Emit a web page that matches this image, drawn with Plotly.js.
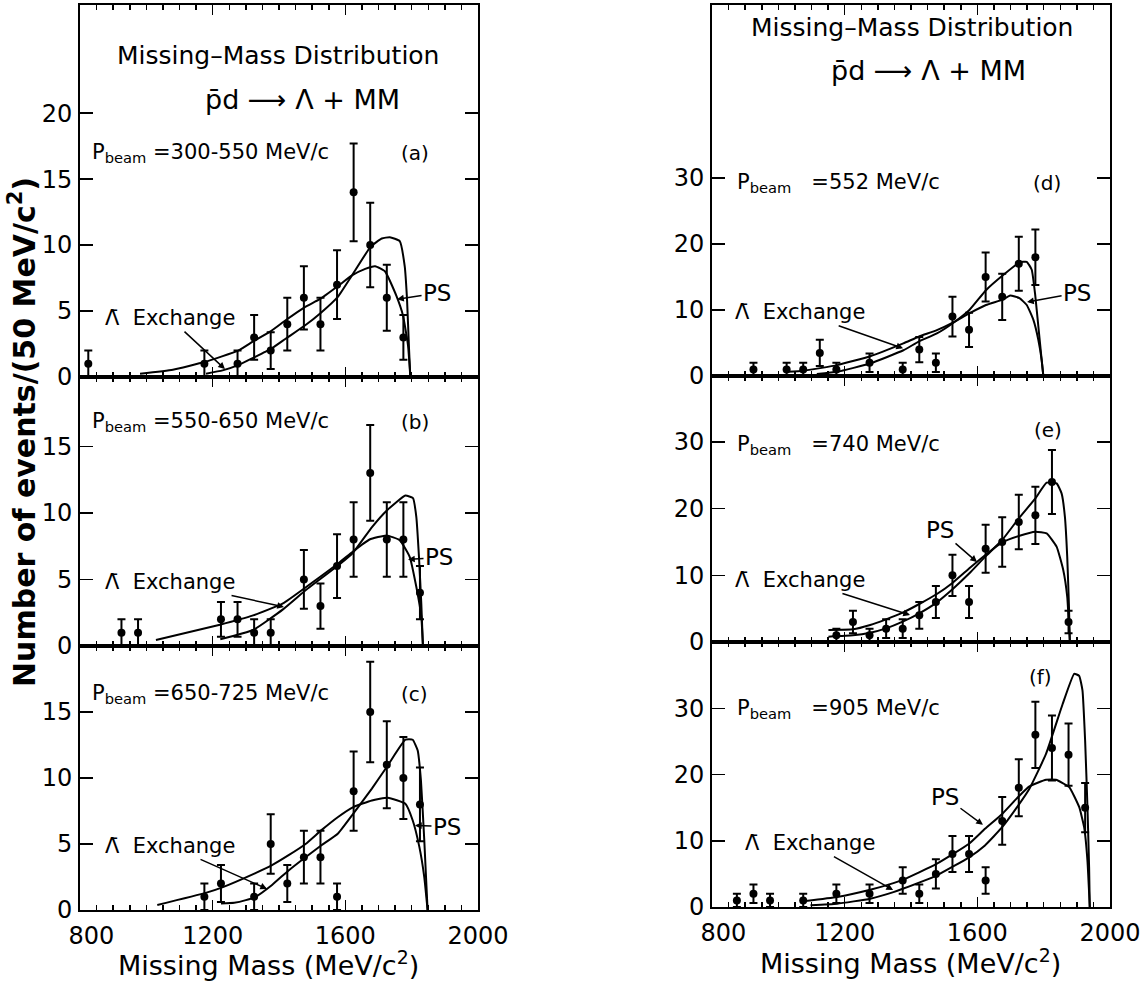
<!DOCTYPE html>
<html>
<head>
<meta charset="utf-8">
<script src="https://cdn.plot.ly/plotly-3.0.1.min.js"></script>
<style>html,body{margin:0;padding:0;background:#fff;}#chart{width:1148px;height:984px;}</style>
</head>
<body>
<div id="chart"></div>
<script>
// ---------- data ----------
// Panel (a) P_beam = 300-550 MeV/c
const a_mass   = [825, 1175, 1275, 1325, 1375, 1425, 1475, 1525, 1575, 1625, 1675, 1725, 1775];
const a_counts = [1, 1, 1, 3, 2, 4, 6, 4, 7, 14, 10, 6, 3];
const a_err    = [1, 1, 1, 1.7, 1.4, 2, 2.4, 2, 2.6, 3.7, 3.2, 2.5, 1.7];
const a_ps_mass = [981, 1080, 1177, 1277, 1322, 1377, 1420, 1478, 1523, 1578, 1620, 1660, 1690, 1720, 1754, 1774, 1789, 1796];
const a_ps_y    = [0.25, 0.55, 1.15, 2.0, 2.7, 3.5, 4.3, 5.3, 5.9, 6.9, 7.7, 8.2, 8.4, 8.0, 6.15, 4.65, 2.4, 0];
const a_lx_mass = [1180, 1230, 1277, 1322, 1377, 1420, 1478, 1523, 1578, 1620, 1677, 1710, 1734, 1764, 1779, 1786, 1792, 1796];
const a_lx_y    = [0.25, 0.5, 0.9, 1.45, 2.15, 2.9, 3.9, 4.8, 6.1, 7.7, 9.9, 10.5, 10.6, 10.3, 8.4, 5.9, 2.15, 0];

// Panel (b) P_beam = 550-650 MeV/c
const b_mass   = [925, 975, 1225, 1275, 1325, 1375, 1475, 1525, 1575, 1625, 1675, 1725, 1775, 1825];
const b_counts = [1, 1, 2, 2, 1, 1, 5, 3, 6, 8, 13, 8, 8, 4];
const b_err    = [1, 1, 1.3, 1.3, 1, 1, 2.2, 1.7, 2.4, 2.8, 3.6, 2.8, 2.8, 2];
const b_ps_mass = [1029, 1222, 1322, 1412, 1483, 1581, 1623, 1673, 1724, 1764, 1794, 1814, 1829, 1834];
const b_ps_y    = [0.45, 1.6, 2.3, 3.2, 4.45, 6.25, 7.1, 8.0, 8.3, 7.95, 6.7, 4.45, 2.2, 0];
const b_lx_mass = [1223, 1322, 1412, 1481, 1581, 1623, 1681, 1726, 1781, 1804, 1814, 1822, 1829, 1834];
const b_lx_y    = [0.5, 1.2, 2.75, 4.2, 6.1, 7.0, 8.95, 10.2, 11.3, 11.1, 9.7, 6.7, 3.2, 0];

// Panel (c) P_beam = 650-725 MeV/c
const c_mass   = [1175, 1225, 1325, 1375, 1425, 1475, 1525, 1575, 1625, 1675, 1725, 1775, 1825];
const c_counts = [1, 2, 1, 5, 2, 4, 4, 1, 9, 15, 11, 10, 8];
const c_err    = [1, 1.4, 1, 2.25, 1.4, 2, 2, 1, 3, 3.8, 3.3, 3.1, 2.8];
const c_ps_mass = [1033, 1179, 1227, 1329, 1379, 1429, 1480, 1528, 1578, 1624, 1680, 1728, 1781, 1803, 1823, 1838, 1848];
const c_ps_y    = [0.38, 1.3, 1.7, 2.8, 3.4, 4.15, 5.0, 6.05, 7.05, 7.8, 8.3, 8.5, 8.05, 6.8, 4.8, 2.5, 0];
const c_lx_mass = [1225, 1265, 1300, 1329, 1379, 1429, 1480, 1528, 1578, 1624, 1680, 1728, 1781, 1803, 1818, 1828, 1838, 1848];
const c_lx_y    = [0.5, 0.55, 0.75, 1.0, 1.9, 3.0, 4.0, 4.9, 5.8, 7.3, 9.2, 10.95, 12.9, 12.9, 12.1, 9.8, 5.3, 0];

// Panel (d) P_beam = 552 MeV/c
const d_mass   = [925, 1025, 1075, 1125, 1175, 1275, 1375, 1425, 1475, 1525, 1575, 1625, 1675, 1725, 1775];
const d_counts = [1, 1, 1, 3.5, 1, 2, 1, 4, 2, 9, 7, 15, 12, 17, 18];
const d_err    = [1, 1, 1, 2, 1, 1.4, 1, 1.9, 1.4, 3, 2.6, 3.7, 3.5, 4.1, 4.2];
const d_ps_mass = [1028, 1076, 1178, 1277, 1377, 1423, 1478, 1526, 1576, 1626, 1678, 1699, 1727, 1749, 1769, 1784, 1794, 1799];
const d_ps_y    = [0.65, 0.8, 1.65, 3.0, 4.95, 5.95, 6.95, 8.1, 9.5, 10.75, 11.6, 12.2, 11.8, 10.75, 8.5, 5.45, 2.4, 0];
const d_lx_mass = [1116, 1178, 1277, 1377, 1423, 1478, 1526, 1576, 1626, 1678, 1727, 1749, 1764, 1774, 1784, 1794, 1799];
const d_lx_y    = [0.3, 0.65, 1.9, 3.9, 5.2, 6.45, 8.0, 10.0, 13.0, 15.3, 17.2, 17.3, 16.1, 12.5, 7.5, 2.4, 0];

// Panel (e) P_beam = 740 MeV/c
const e_mass   = [1175, 1225, 1275, 1325, 1375, 1425, 1475, 1525, 1575, 1625, 1675, 1725, 1775, 1825, 1875];
const e_counts = [1, 3, 1, 2, 2, 4, 6, 10, 6, 14, 15, 18, 19, 24, 3];
const e_err    = [1, 1.7, 1, 1.4, 1.4, 2, 2.4, 3.1, 2.4, 3.6, 3.7, 4.1, 4.3, 4.8, 1.7];
const e_ps_mass = [1151, 1225, 1277, 1325, 1375, 1425, 1478, 1526, 1576, 1624, 1675, 1725, 1775, 1809, 1839, 1859, 1871, 1879];
const e_ps_y    = [1.8, 1.9, 2.55, 3.4, 4.4, 5.7, 7.2, 8.9, 11.05, 13.05, 14.95, 15.9, 16.55, 16.3, 14.3, 10.8, 6.8, 0];
const e_lx_mass = [1151, 1225, 1277, 1325, 1375, 1425, 1478, 1526, 1576, 1624, 1675, 1725, 1775, 1809, 1839, 1854, 1864, 1871, 1876, 1879];
const e_lx_y    = [0.8, 1.0, 1.4, 2.05, 3.05, 4.3, 5.95, 7.95, 10.3, 12.8, 15.3, 18.55, 21.55, 23.9, 23.8, 22.3, 18.8, 12.8, 5.8, 0];

// Panel (f) P_beam = 905 MeV/c
const f_mass   = [875, 925, 975, 1075, 1175, 1275, 1375, 1425, 1475, 1525, 1575, 1625, 1675, 1725, 1775, 1825, 1875, 1925];
const f_counts = [1, 2, 1, 1, 2, 2, 4, 2, 5, 8, 8, 4, 13, 18, 26, 24, 23, 15];
const f_err    = [1, 1.4, 1, 1, 1.4, 1.4, 2, 1.4, 2.2, 2.7, 2.7, 2, 3.6, 4.3, 5, 4.9, 4.7, 3.7];
const f_ps_mass = [1082, 1177, 1277, 1347, 1375, 1477, 1575, 1623, 1675, 1723, 1757, 1807, 1837, 1877, 1907, 1922, 1932, 1939];
const f_ps_y    = [0.9, 1.5, 2.6, 3.6, 4.1, 6.5, 9.55, 11.8, 14.05, 16.6, 18.2, 19.2, 19.2, 18.1, 15.1, 12.05, 7.0, 0];
const f_lx_mass = [1097, 1177, 1277, 1347, 1375, 1477, 1575, 1623, 1675, 1723, 1757, 1807, 1857, 1892, 1907, 1917, 1925, 1932, 1937, 1939];
const f_lx_y    = [0.25, 0.5, 1.25, 2.25, 2.75, 4.75, 7.5, 9.3, 12.05, 15.3, 17.85, 23.1, 30.6, 35.2, 34.9, 32.7, 25.1, 15.1, 6.0, 0];

// Text
const panel_beam   = ['300-550 MeV/c', '550-650 MeV/c', '650-725 MeV/c', '552 MeV/c', '740 MeV/c', '905 MeV/c'];
const panel_tags   = ['(a)', '(b)', '(c)', '(d)', '(e)', '(f)'];
const x_tick_vals  = [800, 1200, 1600, 2000];
const x_tick_text  = ['\u00a0\u00a0\u00a0800', '1200', '1600', '2000'];
const left_y_ticks = [[0, 5, 10, 15, 20], [0, 5, 10, 15], [0, 5, 10, 15]];
const right_y_ticks = [0, 10, 20, 30];

// ---------- build ----------
const FONT = 'DejaVu Sans, Arial, sans-serif';
const panels = [
  {m: a_mass, c: a_counts, e: a_err, pm: a_ps_mass, py: a_ps_y, lm: a_lx_mass, ly: a_lx_y},
  {m: b_mass, c: b_counts, e: b_err, pm: b_ps_mass, py: b_ps_y, lm: b_lx_mass, ly: b_lx_y},
  {m: c_mass, c: c_counts, e: c_err, pm: c_ps_mass, py: c_ps_y, lm: c_lx_mass, ly: c_lx_y},
  {m: d_mass, c: d_counts, e: d_err, pm: d_ps_mass, py: d_ps_y, lm: d_lx_mass, ly: d_lx_y},
  {m: e_mass, c: e_counts, e: e_err, pm: e_ps_mass, py: e_ps_y, lm: e_lx_mass, ly: e_lx_y},
  {m: f_mass, c: f_counts, e: f_err, pm: f_ps_mass, py: f_ps_y, lm: f_lx_mass, ly: f_lx_y}
];

const H = 984, W = 1148;
const xDomL = [80 / W, 478 / W], xDomR = [712 / W, 1110 / W];
const yPix = [[5, 377], [377, 646], [646, 910], [5, 376], [376, 642], [642, 907]];
const yRanges = [[0, 28.2], [0, 20.2], [0, 20], [0, 56.2], [0, 39.9], [0, 40]];

const traces = [];
panels.forEach((p, i) => {
  const xa = i === 0 ? 'x' : 'x' + (i + 1);
  const ya = i === 0 ? 'y' : 'y' + (i + 1);
  traces.push({x: p.pm, y: p.py, xaxis: xa, yaxis: ya, mode: 'lines', type: 'scatter',
    line: {color: '#000', width: 2, shape: 'spline', smoothing: 0.4}, hoverinfo: 'skip', name: 'PS'});
  traces.push({x: p.lm, y: p.ly, xaxis: xa, yaxis: ya, mode: 'lines', type: 'scatter',
    line: {color: '#000', width: 2, shape: 'spline', smoothing: 0.4}, hoverinfo: 'skip', name: 'Λ̄ Exchange'});
  traces.push({x: p.m, y: p.c, xaxis: xa, yaxis: ya, mode: 'markers', type: 'scatter',
    marker: {color: '#000', size: 8},
    error_y: {type: 'data', array: p.e, visible: true, color: '#000', thickness: 2, width: 4},
    name: 'data'});
});

const layout = {
  width: W, height: H,
  margin: {l: 0, r: 0, t: 0, b: 0},
  paper_bgcolor: '#fff', plot_bgcolor: '#fff',
  showlegend: false,
  font: {family: FONT, color: '#000', size: 20},
  annotations: []
};

for (let i = 0; i < 6; i++) {
  const sfx = i === 0 ? '' : String(i + 1);
  const left = i < 3;
  const bottom = (i === 2 || i === 5);
  layout['xaxis' + sfx] = {
    domain: left ? xDomL : xDomR,
    anchor: 'y' + sfx,
    range: [800, 2000],
    tickvals: x_tick_vals,
    ticktext: x_tick_text,
    showticklabels: bottom,
    ticks: 'inside', ticklen: 10, tickwidth: 1.5, tickcolor: '#000',
    minor: {dtick: 50, tick0: 800, ticks: 'inside', ticklen: 5, tickwidth: 1.5, tickcolor: '#000', showgrid: false},
    showline: true, linecolor: '#000', linewidth: 2, mirror: 'ticks',
    showgrid: false, zeroline: false,
    ticklabelstandoff: 3,
    tickfont: {family: FONT, size: 24, color: '#000'}
  };
  const yp = yPix[i];
  layout['yaxis' + sfx] = {
    domain: [1 - yp[1] / H, 1 - yp[0] / H],
    anchor: 'x' + sfx,
    range: yRanges[i],
    tickvals: left ? left_y_ticks[i] : right_y_ticks,
    ticks: 'inside', ticklen: 13, tickwidth: 1.5, tickcolor: '#000',
    showline: true, linecolor: '#000', linewidth: 2, mirror: 'ticks',
    showgrid: false, zeroline: false,
    ticklabelstandoff: 1,
    tickfont: {family: FONT, size: 24, color: '#000'}
  };
}

const A = layout.annotations;
function addText(i, x, y, text, size, xanchor) {
  const sfx = i === 0 ? '' : String(i + 1);
  A.push({xref: 'x' + sfx, yref: 'y' + sfx, x: x, y: y, text: text, showarrow: false,
    xanchor: xanchor || 'center', yanchor: 'middle', font: {family: FONT, size: size, color: '#000'}});
}
function addArrow(i, x, y, ax, ay, text, size) {
  const sfx = i === 0 ? '' : String(i + 1);
  A.push({xref: 'x' + sfx, yref: 'y' + sfx, x: x, y: y, ax: ax, ay: ay, text: text, showarrow: true,
    arrowhead: 2, arrowsize: 0.9, arrowwidth: 1.5, arrowcolor: '#000', standoff: 0,
    font: {family: FONT, size: size, color: '#000'}});
}

// beam labels and tags
const beamPos = [[830, 17], [830, 16.8], [830, 16.4], [869, 29.2], [869, 29.5], [869, 29.9]];
const tagPos = [[1810, 17], [1810, 16.8], [1810, 16.4], [1810, 29.2], [1813, 31.8], [1789, 34.7]];
for (let i = 0; i < 6; i++) {
  const gap = i < 3 ? '' : '&nbsp;&nbsp;';
  addText(i, beamPos[i][0], beamPos[i][1], 'P<sub>beam</sub>' + gap + ' =' + panel_beam[i], 21, 'left');
  addText(i, tagPos[i][0], tagPos[i][1], panel_tags[i], 20, 'center');
}
// curve labels with leaders
const lxTip = [[1237, 0.6], [1415, 2.93], [1364, 1.6], [1376, 4.2], [1397, 4.05], [1346, 2.56]];
const lxOff = [[-55, -51], [-114, -25], [-97, -43], [-103, -36], [-110, -35], [-83, -47]];
const psTip = [[1756, 5.9], [1789, 6.5], [1810, 6.4], [1750, 11.2], [1599, 12], [1617, 12.4]];
const psOff = [[40, -6], [31, -2], [32, 1], [50, -9], [-37, -32], [-38, -28]];
for (let i = 0; i < 6; i++) {
  addArrow(i, lxTip[i][0], lxTip[i][1], lxOff[i][0], lxOff[i][1], 'Λ̄&nbsp; Exchange', 21);
  addArrow(i, psTip[i][0], psTip[i][1], psOff[i][0], psOff[i][1], 'PS', 23);
}

// headings and axis titles (paper coordinates)
function paperText(px, py, text, size, angle, weight) {
  A.push({xref: 'paper', yref: 'paper', x: px / W, y: 1 - py / H, text: text, showarrow: false,
    xanchor: 'center', yanchor: 'middle', textangle: angle || 0,
    font: {family: FONT, size: size, color: '#000', weight: weight || 'normal'}});
}
paperText(278, 55, 'Missing–Mass Distribution', 25);
paperText(302, 100, 'p̄d ⟶ Λ + MM', 27);
paperText(912, 28, 'Missing–Mass Distribution', 25);
paperText(928, 70, 'p̄d ⟶ Λ + MM', 27);
paperText(268, 963, 'Missing Mass (MeV/c<sup>2</sup>)', 27);
paperText(910, 961, 'Missing Mass (MeV/c<sup>2</sup>)', 27);
paperText(23, 432, 'Number of events/(50 MeV/c<sup>2</sup>)', 30, -90, 'bold');

Plotly.newPlot('chart', traces, layout, {staticPlot: true, displayModeBar: false});
</script>
</body>
</html>
